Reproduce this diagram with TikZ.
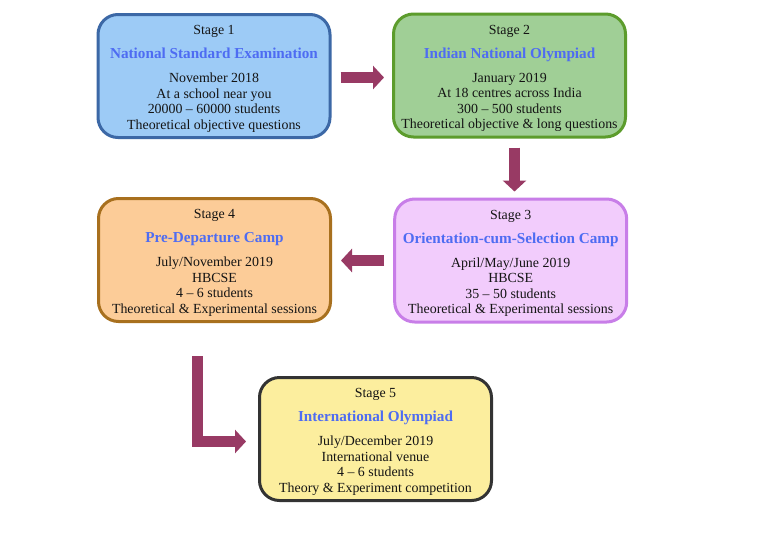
\documentclass[tikz,border=0pt]{standalone}
\usepackage{fontspec}
\setmainfont{Liberation Serif}
\usetikzlibrary{arrows.meta}
\definecolor{titlec}{RGB}{78,108,242}
\definecolor{arrowc}{RGB}{152,58,100}
\definecolor{f1}{RGB}{157,203,246}\definecolor{d1}{RGB}{60,104,166}
\definecolor{f2}{RGB}{160,207,150}\definecolor{d2}{RGB}{92,156,44}
\definecolor{f3}{RGB}{242,204,252}\definecolor{d3}{RGB}{200,126,232}
\definecolor{f4}{RGB}{252,204,152}\definecolor{d4}{RGB}{168,112,30}
\definecolor{f5}{RGB}{252,238,158}\definecolor{d5}{RGB}{51,51,51}
\tikzset{
  stagebox/.style={rounded corners=20pt, line width=3pt, minimum width=232pt,
    minimum height=123pt, inner sep=0pt},
  stagetext/.style={inner sep=0pt, align=center, text=black!92,
    font=\fontsize{13.9}{15.5}\selectfont},
  bigarrow/.style={draw=arrowc, line width=11.5pt, line join=miter,
    -{Triangle[length=11pt,width=23pt]}},
}
\newcommand{\ttl}[1]{{\fontsize{15.2}{16}\selectfont\bfseries\color{titlec}#1}}
\begin{document}
\begin{tikzpicture}[x=1pt,y=-1pt]
\fill[white] (0,0) rectangle (770,538);
\useasboundingbox (0,0) rectangle (770,538);
\node[stagebox, fill=f1, draw=d1] (s1) at (214,76) {};
\node[stagebox, fill=f2, draw=d2] (s2) at (509.5,75.5) {};
\node[stagebox, fill=f3, draw=d3] (s3) at (510.7,260.5) {};
\node[stagebox, fill=f4, draw=d4] (s4) at (214.5,260) {};
\node[stagebox, fill=f5, draw=d5] (s5) at (375.5,439) {};
\node[stagetext] (t1) at ([yshift=-3pt]s1.center) {Stage 1\\[8.5pt]\ttl{National Standard Examination}\\[8.5pt]November 2018\\At a school near you\\20000 -- 60000 students\\Theoretical objective questions};
\node[stagetext] (t2) at ([yshift=-3pt]s2.center) {Stage 2\\[8.5pt]\ttl{Indian National Olympiad}\\[8.5pt]January 2019\\At 18 centres across India\\300 -- 500 students\\Theoretical objective \& long questions};
\node[stagetext] (t3) at ([yshift=-3pt]s3.center) {Stage 3\\[8.5pt]\ttl{Orientation-cum-Selection Camp}\\[8.5pt]April/May/June 2019\\HBCSE\\35 -- 50 students\\Theoretical \& Experimental sessions};
\node[stagetext] (t4) at ([yshift=-3pt]s4.center) {Stage 4\\[8.5pt]\ttl{Pre-Departure Camp}\\[8.5pt]July/November 2019\\HBCSE\\4 -- 6 students\\Theoretical \& Experimental sessions};
\node[stagetext] (t5) at ([yshift=-3pt]s5.center) {Stage 5\\[8.5pt]\ttl{International Olympiad}\\[8.5pt]July/December 2019\\International venue\\4 -- 6 students\\Theory \& Experiment competition};
\draw[bigarrow, shorten <=9pt, shorten >=8pt] ([yshift=-1.5pt]s1.east) -- ([yshift=-1.5pt]s1.east -| s2.west);
\draw[bigarrow, shorten <=9pt, shorten >=6pt] ([xshift=5pt]s2.south) -- ([xshift=5pt]s2.south |- s3.north);
\draw[bigarrow, shorten <=9pt, shorten >=9pt] (s3.west) -- (s3.west -| s4.east);
\coordinate (lstart) at ([xshift=-17pt,yshift=-33pt]s4.south);
\draw[bigarrow, shorten >=12pt] (lstart) |- ([yshift=-2.5pt]s5.west);
\end{tikzpicture}
\end{document}
